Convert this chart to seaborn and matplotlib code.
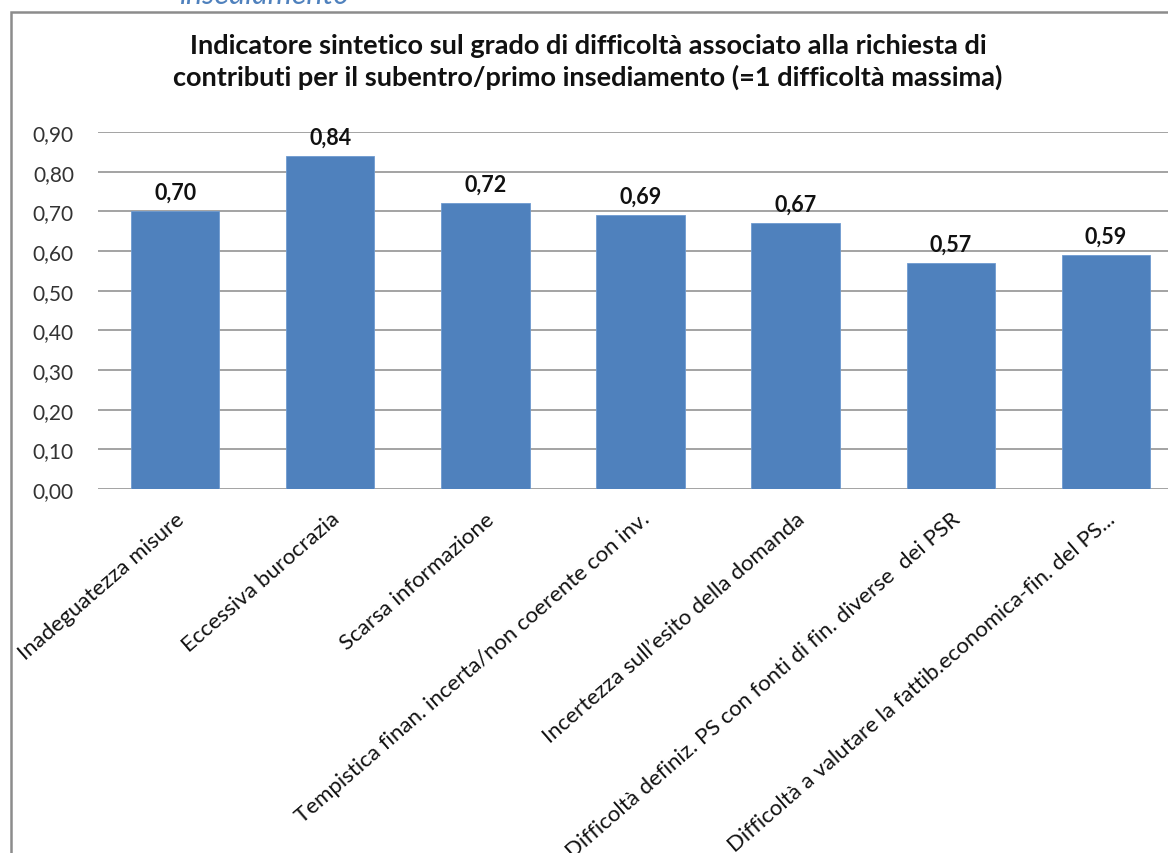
import matplotlib
matplotlib.use("Agg")
import matplotlib.pyplot as plt
from matplotlib.patches import Rectangle
import seaborn as sns
import pandas as pd

# Categories and indicator values (1 = maximum difficulty)
categories = [
    "Inadeguatezza misure",
    "Eccessiva burocrazia",
    "Scarsa informazione",
    "Tempistica finan. incerta/non coerente con inv.",
    "Incertezza sull\u2019esito della domanda",
    "Difficolt\u00e0 definiz. PS con fonti di fin. diverse  dei PSR",
    "Difficolt\u00e0 a valutare la fattib.economica-fin. del PS...",
]
values = [0.70, 0.84, 0.72, 0.69, 0.67, 0.57, 0.59]
y_ticks = [0.0, 0.1, 0.2, 0.3, 0.4, 0.5, 0.6, 0.7, 0.8, 0.9]

title = ("Indicatore sintetico sul grado di difficolt\u00e0 associato alla richiesta di\n"
         "contributi per il subentro/primo insediamento (=1 difficolt\u00e0 massima)")

sns.set_theme(style="white")
plt.rcParams["font.family"] = ["Lato", "DejaVu Sans"]

W, H = 1168, 854
fig = plt.figure(figsize=(W / 100, H / 100), dpi=100)
fig.patch.set_facecolor("white")

def fx(px):
    return px / W

def fy(py):
    return 1 - py / H

# Chart frame (extends past the right and bottom edges)
fig.patches.append(Rectangle((fx(11), fy(900)), fx(1300), fy(13) - fy(900),
                             transform=fig.transFigure, fill=False,
                             edgecolor="#8c8c8c", linewidth=1.8, zorder=0))

# Caption text partially visible above the frame
fig.text(fx(265), fy(4), "insediamento", ha="center", va="baseline",
         fontsize=22, style="italic", color="#4f81bd")

left, right = 97.5, 1183.5
top, bottom = 133, 490
ax = fig.add_axes([fx(left), fy(bottom), fx(right - left), fy(top) - fy(bottom)])
ax.set_zorder(2)

df = pd.DataFrame({"categoria": categories, "valore": values})
sns.barplot(data=df, x="categoria", y="valore", color="#4f81bd", width=0.57,
            saturation=1, edgecolor="#6f9bd0", linewidth=0.6, ax=ax, zorder=3)

ax.set_ylim(0, 0.9)
ax.set_xlim(-0.5, len(categories) - 0.5)
ax.set_yticks(y_ticks)
ax.set_yticklabels([f"{v:.2f}".replace(".", ",") for v in y_ticks],
                   fontsize=15, color="#333333")
ax.yaxis.grid(True, color="#8a8a8a", linewidth=1.1)
ax.set_axisbelow(True)
for s in ax.spines.values():
    s.set_visible(False)
ax.tick_params(axis="y", length=0, pad=17)
ax.tick_params(axis="x", length=0, pad=14)
ax.set_xlabel("")
ax.set_ylabel("")

ax.set_xticks(range(len(categories)))
ax.set_xticklabels(categories, rotation=41, ha="right", rotation_mode="anchor",
                   fontsize=16, color="#111111")

for i, v in enumerate(values):
    ax.annotate(f"{v:.2f}".replace(".", ","), (i, v), xytext=(0, 9),
                textcoords="offset points", ha="center", va="baseline",
                fontsize=15.5, fontweight="bold", color="#111111")

fig.text(fx(588), fy(34), title, ha="center", va="top", fontsize=19.5,
         fontweight="bold", color="#111111", linespacing=1.3)

fig.savefig("out.png", dpi=100)
